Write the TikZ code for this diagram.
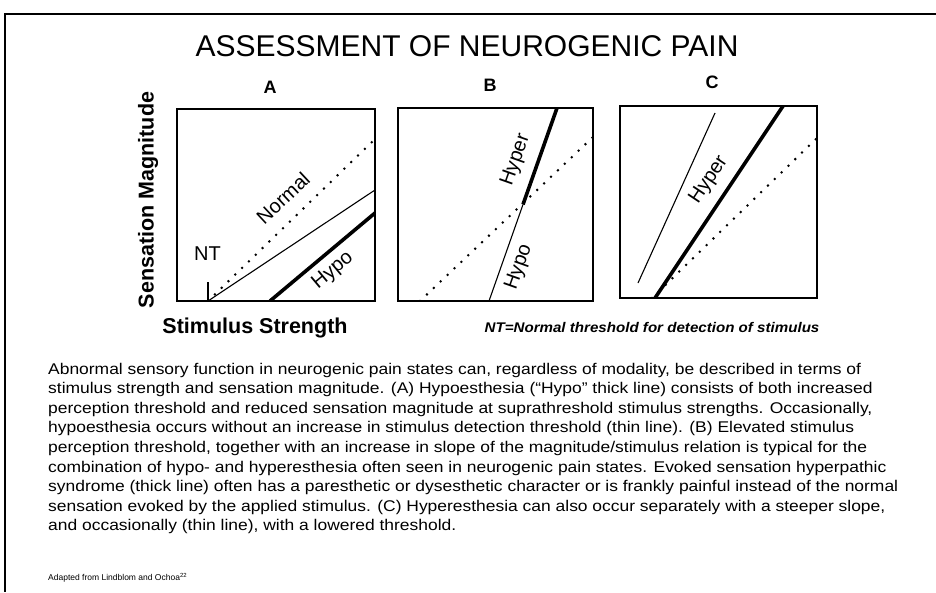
\documentclass[tikz,border=0pt]{standalone}
\usepackage{fontspec}
\setmainfont{Liberation Sans}
\newcommand{\capx}[1]{\scalebox{1.125}[1]{#1}}
\begin{document}
\begin{tikzpicture}[x=1pt,y=-1pt,
  frame/.style={line width=1.4pt},
  panel/.style={line width=1.8pt},
  thinln/.style={line width=1.1pt},
  thickln/.style={line width=3.6pt},
  dotln/.style={line width=2.8pt, dash pattern=on 0pt off 9.5pt, line cap=round},
  lbl/.style={font=\fontsize{20}{22}\selectfont, inner sep=0pt},
  letter/.style={font=\bfseries\fontsize{18}{20}\selectfont, inner sep=0pt},
  axis/.style={font=\bfseries\fontsize{21.5}{23}\selectfont, inner sep=0pt},
  capline/.style={anchor=base west, inner sep=0pt, font=\fontsize{15.5}{18}\selectfont}]
\useasboundingbox (0,0) rectangle (936,592);
\fill[white] (0,0) rectangle (936,592);
\draw[frame] (936,14) -- (5,14) -- (5,592);

\node[inner sep=0pt, font=\fontsize{30}{32}\selectfont] (title) at (467,46) {ASSESSMENT OF NEUROGENIC PAIN};

% panel A
\coordinate (A1) at (177,109); \coordinate (A2) at (375,301);
\begin{scope}
\clip (A1) rectangle (A2);
\draw[dotln] (208,301) -- (375,139);
\draw[thinln] (208,301) -- (375,190);
\draw[thickln] (270,301) -- (375,213);
\draw[thinln] (208,282) -- (208,301);
\end{scope}
\draw[panel] (A1) rectangle (A2);
\node[letter] (labA) at (270,87) {A};
\node[lbl] (nt) at (207.5,254) {NT};
\node[lbl, rotate=43] (normal) at (283,198) {Normal};
\node[lbl, rotate=40] (hypoA) at (333,271) {Hypo};

% panel B
\coordinate (B1) at (398,108); \coordinate (B2) at (593,301);
\begin{scope}
\clip (B1) rectangle (B2);
\draw[dotln] (420,301) -- (593,137);
\draw[thinln] (489,301) -- (523,204.5);
\draw[thickln] (523,204.5) -- (557,108);
\end{scope}
\draw[panel] (B1) rectangle (B2);
\node[letter] (labB) at (490,85) {B};
\node[lbl, rotate=70.6] (hyperB) at (516,160) {Hyper};
\node[lbl, rotate=70.6] (hypoB) at (519,267) {Hypo};

% panel C
\coordinate (C1) at (620,106); \coordinate (C2) at (817,298);
\begin{scope}
\clip (C1) rectangle (C2);
\draw[thinln] (638,283) -- (715,113);
\draw[dotln] (652,298) -- (817,138);
\draw[thickln] (655,298) -- (783,106);
\end{scope}
\draw[panel] (C1) rectangle (C2);
\node[letter] (labC) at (712,82) {C};
\node[lbl, rotate=56.3] (hyperC) at (709,180) {Hyper};

% axes
\node[axis, rotate=90] (ylab) at (148,200) {Sensation Magnitude};
\node[axis] (xlab) at (255,328) {Stimulus Strength};
\node[inner sep=0pt, font=\bfseries\itshape\fontsize{14}{16}\selectfont] (note) at (652,327) {\scalebox{1.08}[1]{NT=Normal threshold for detection of stimulus}};

% caption
\node[capline] (c1) at (48,374) {\capx{Abnormal sensory function in neurogenic pain states can, regardless of modality, be described in terms of}};
\node[capline] (c2) at (48,393.6) {\capx{stimulus strength and sensation magnitude. (A) Hypoesthesia (“Hypo” thick line) consists of both increased}};
\node[capline] (c3) at (48,413.2) {\capx{perception threshold and reduced sensation magnitude at suprathreshold stimulus strengths. Occasionally,}};
\node[capline] (c4) at (48,432.8) {\capx{hypoesthesia occurs without an increase in stimulus detection threshold (thin line). (B) Elevated stimulus}};
\node[capline] (c5) at (48,452.4) {\capx{perception threshold, together with an increase in slope of the magnitude/stimulus relation is typical for the}};
\node[capline] (c6) at (48,472) {\capx{combination of hypo- and hyperesthesia often seen in neurogenic pain states. Evoked sensation hyperpathic}};
\node[capline] (c7) at (48,491.6) {\capx{syndrome (thick line) often has a paresthetic or dysesthetic character or is frankly painful instead of the normal}};
\node[capline] (c8) at (48,511.2) {\capx{sensation evoked by the applied stimulus. (C) Hyperesthesia can also occur separately with a steeper slope,}};
\node[capline] (c9) at (48,530.8) {\capx{and occasionally (thin line), with a lowered threshold.}};

\node[anchor=base west, inner sep=0pt, font=\fontsize{8.5}{10}\selectfont] (src) at (48,580) {Adapted from Lindblom and Ochoa\textsuperscript{22}};
\end{tikzpicture}
\end{document}
